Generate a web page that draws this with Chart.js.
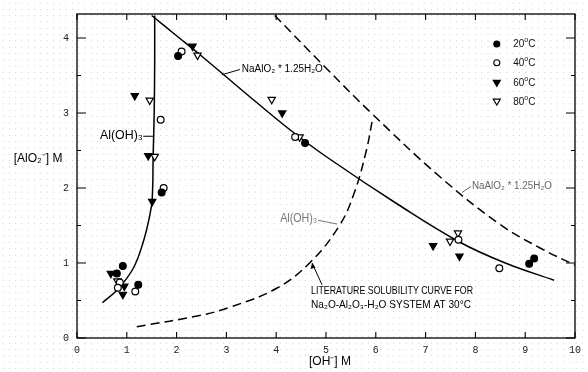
<!DOCTYPE html>
<html>
<head>
<meta charset="utf-8">
<script src="https://cdn.jsdelivr.net/npm/chart.js@4.4.0/dist/chart.umd.min.js"></script>
<style>
  html, body {
    margin: 0;
    padding: 0;
    background-color: #fff;
    background-image: radial-gradient(circle, #c4c4c4 0.7px, transparent 0.9px);
    background-size: 6.3px 6.3px;
  }
  canvas { display: block; }
</style>
</head>
<body>
<canvas id="solChart" width="588" height="372"></canvas>
<script>
// points : [OH-] (M), [AlO2-] (M)
const pts20 = [[2.03, 3.76], [1.70, 1.94], [0.92, 0.96], [0.80, 0.86], [1.23, 0.71], [4.58, 2.60], [9.08, 0.99], [9.18, 1.06]];
const pts40 = [[2.10, 3.82], [1.68, 2.91], [1.74, 2.00], [0.86, 0.74], [0.82, 0.67], [1.17, 0.62], [4.38, 2.68], [7.66, 1.31], [8.48, 0.93]];
const pts60 = [[2.32, 3.89], [1.16, 3.23], [1.43, 2.43], [1.51, 1.82], [0.68, 0.86], [0.95, 0.69], [0.92, 0.58], [4.12, 3.00], [7.15, 1.23], [7.68, 1.09]];
const pts80 = [[2.42, 3.77], [1.46, 3.17], [1.56, 2.42], [0.81, 0.76], [3.91, 3.18], [4.47, 2.68], [7.49, 1.29], [7.65, 1.40]];

// courbes
const alohX = [0.51, 0.82, 1.13, 1.33, 1.46, 1.51, 1.53, 1.55, 1.56, 1.56];
const alohY = [0.47, 0.65, 0.93, 1.28, 1.63, 1.85, 2.45, 3.0, 3.7, 4.3];
const naX = [1.5, 2.0, 2.5, 3.0, 3.5, 4.27, 5.0, 6.47, 7.68, 8.6, 9.58];
const naY = [4.3, 4.03, 3.76, 3.48, 3.2, 2.78, 2.42, 1.77, 1.28, 1.0, 0.77];
const naLitX = [3.97, 5.0, 5.94, 7.27, 8.48, 9.3, 10.0];
const naLitY = [4.3, 3.6, 2.98, 2.16, 1.52, 1.2, 0.97];
const alohLitX = [1.2, 2.46, 3.07, 4.0, 4.67, 5.27, 5.57, 5.81, 5.94];
const alohLitY = [0.15, 0.30, 0.41, 0.66, 1.0, 1.5, 1.94, 2.5, 2.94];

const xTicks = [0, 1, 2, 3, 4, 5, 6, 7, 8, 9, 10];
const yTicks = [0, 1, 2, 3, 4];
const yMinorTicks = [0.5, 1.5, 2.5, 3.5];
const legendLabels = ["20", "40", "60", "80"];

const toXY = (xs, ys) => xs.map((x, i) => ({ x: x, y: ys[i] }));
const toPts = (arr) => arr.map((p) => ({ x: p[0], y: p[1] }));

const sans = '"Liberation Sans", Arial, sans-serif';
const narrow = '"Liberation Sans Narrow", "Liberation Sans", sans-serif';

function pointSet(data, style, filled) {
  return {
    data: toPts(data),
    pointStyle: style,
    rotation: style === "triangle" ? 180 : 0,
    pointRadius: style === "triangle" ? 4.2 : 3.4,
    backgroundColor: filled ? "#000" : "#fff",
    borderColor: "#000",
    borderWidth: 1.2,
    showLine: false,
  };
}

function curveSet(data, dashed) {
  return {
    data: data,
    showLine: true,
    pointRadius: 0,
    borderColor: "#000",
    borderWidth: 1.5,
    borderDash: dashed ? [9, 5] : [],
    tension: 0.4,
    fill: false,
  };
}

// petit texte "20°C" avec le o en exposant
function degText(ctx, num, x, y, size) {
  ctx.textAlign = "left";
  ctx.textBaseline = "middle";
  ctx.font = size + "px " + narrow;
  ctx.fillText(num, x, y);
  const w = ctx.measureText(num).width;
  ctx.font = Math.round(size * 0.7) + "px " + narrow;
  ctx.fillText("o", x + w, y - size * 0.4);
  const w2 = ctx.measureText("o").width;
  ctx.font = size + "px " + narrow;
  ctx.fillText("C", x + w + w2, y);
}

// cadre et graduations vers l'intérieur
const framePlugin = {
  id: "frame",
  afterDatasetsDraw(chart) {
    const { ctx, chartArea: a, scales } = chart;
    ctx.save();
    ctx.strokeStyle = "#000";
    ctx.lineWidth = 1.3;
    ctx.strokeRect(a.left, a.top, a.right - a.left, a.bottom - a.top);
    ctx.lineWidth = 1.1;
    ctx.beginPath();
    xTicks.forEach((v) => {
      const px = scales.x.getPixelForValue(v);
      ctx.moveTo(px, a.bottom);
      ctx.lineTo(px, a.bottom - 6);
      ctx.moveTo(px, a.top);
      ctx.lineTo(px, a.top + 6);
    });
    yTicks.forEach((v) => {
      const py = scales.y.getPixelForValue(v);
      ctx.moveTo(a.left, py);
      ctx.lineTo(a.left + 9, py);
      ctx.moveTo(a.right, py);
      ctx.lineTo(a.right - 9, py);
    });
    yMinorTicks.forEach((v) => {
      const py = scales.y.getPixelForValue(v);
      ctx.moveTo(a.left, py);
      ctx.lineTo(a.left + 4, py);
      ctx.moveTo(a.right, py);
      ctx.lineTo(a.right - 4, py);
    });
    ctx.stroke();
    ctx.restore();
  },
};

// textes, flèches et légende
const notesPlugin = {
  id: "notes",
  afterDraw(chart) {
    const { ctx, scales } = chart;
    const P = (x, y) => [scales.x.getPixelForValue(x), scales.y.getPixelForValue(y)];
    const line = (x1, y1, x2, y2, color) => {
      const a = P(x1, y1), b = P(x2, y2);
      ctx.strokeStyle = color;
      ctx.lineWidth = 1;
      ctx.beginPath();
      ctx.moveTo(a[0], a[1]);
      ctx.lineTo(b[0], b[1]);
      ctx.stroke();
    };
    const text = (s, x, y, font, color, maxW, align) => {
      const p = P(x, y);
      ctx.font = font;
      ctx.fillStyle = color;
      ctx.textAlign = align || "left";
      ctx.textBaseline = "middle";
      ctx.fillText(s, p[0], p[1], maxW);
    };
    ctx.save();

    // titres des axes
    text("[AlO₂⁻] M", -1.27, 2.39, "12px " + sans, "#000", 50);
    text("[OH⁻] M", 5.08, -0.31, "12px " + sans, "#000", 44, "center");

    // Al(OH)3 (trait plein)
    text("Al(OH)₃", 0.46, 2.70, "13px " + sans, "#000", 43);
    line(1.33, 2.69, 1.55, 2.69, "#000");

    // NaAlO2 (trait plein)
    text("NaAlO₂ * 1.25H₂O", 3.31, 3.59, "10px " + sans, "#000", 81);
    line(2.91, 3.51, 3.27, 3.58, "#000");

    // NaAlO2 (pointillés)
    text("NaAlO₂ * 1.25H₂O", 7.93, 2.02, "10px " + sans, "#666", 80);
    line(7.73, 1.94, 7.91, 2.02, "#666");

    // Al(OH)3 (pointillés)
    text("Al(OH)₃", 4.08, 1.59, "12px " + sans, "#777", 37);
    line(4.84, 1.57, 5.22, 1.52, "#777");

    // courbe de la littérature
    text("LITERATURE SOLUBILITY CURVE FOR", 4.70, 0.63, "10.5px " + narrow, "#000", 162);
    text("Na₂O-Al₂O₃-H₂O SYSTEM AT 30°C", 4.70, 0.44, "10.5px " + narrow, "#000", 160);
    line(4.92, 0.71, 4.72, 1.0, "#000");
    const tip = P(4.72, 1.0);
    ctx.fillStyle = "#000";
    ctx.beginPath();
    ctx.moveTo(tip[0], tip[1]);
    ctx.lineTo(tip[0] - 1.5, tip[1] + 6);
    ctx.lineTo(tip[0] + 3.5, tip[1] + 4.5);
    ctx.closePath();
    ctx.fill();

    // légende
    const rowsY = [3.92, 3.67, 3.40, 3.15];
    rowsY.forEach((ry, i) => {
      const p = P(8.43, ry);
      ctx.lineWidth = 1.1;
      ctx.strokeStyle = "#000";
      ctx.fillStyle = i % 2 === 0 ? "#000" : "#fff";
      ctx.beginPath();
      if (i < 2) {
        ctx.arc(p[0], p[1], 3, 0, Math.PI * 2);
      } else {
        ctx.moveTo(p[0] - 3.6, p[1] - 2.6);
        ctx.lineTo(p[0] + 3.6, p[1] - 2.6);
        ctx.lineTo(p[0], p[1] + 3.4);
        ctx.closePath();
      }
      ctx.fill();
      ctx.stroke();
      ctx.fillStyle = "#111";
      const t = P(8.76, ry);
      degText(ctx, legendLabels[i], t[0], t[1], 10);
    });

    ctx.restore();
  },
};

const ctx = document.getElementById("solChart").getContext("2d");
const solChart = new Chart(ctx, {
  type: "scatter",
  data: {
    datasets: [
      pointSet(pts20, "circle", true),
      pointSet(pts40, "circle", false),
      pointSet(pts60, "triangle", true),
      pointSet(pts80, "triangle", false),
      curveSet(toXY(alohX, alohY), false),
      curveSet(toXY(naX, naY), false),
      curveSet(toXY(naLitX, naLitY), true),
      curveSet(toXY(alohLitX, alohLitY), true),
    ],
  },
  options: {
    responsive: false,
    animation: false,
    events: [],
    layout: { padding: { top: 8, right: 13, left: 0, bottom: 0 } },
    plugins: {
      legend: { display: false },
      tooltip: { enabled: false },
    },
    scales: {
      x: {
        type: "linear",
        min: 0,
        max: 10,
        afterBuildTicks: (s) => { s.ticks = xTicks.map((v) => ({ value: v })); },
        afterFit: (s) => { s.height = 34; },
        grid: { display: false, drawTicks: false },
        border: { display: false },
        ticks: {
          padding: 6,
          color: "#222",
          font: { family: '"Liberation Mono", monospace', size: 10 },
        },
      },
      y: {
        type: "linear",
        min: 0,
        max: 4.32,
        afterBuildTicks: (s) => { s.ticks = yTicks.map((v) => ({ value: v })); },
        afterFit: (s) => { s.width = 77; },
        grid: { display: false, drawTicks: false },
        border: { display: false },
        ticks: {
          padding: 8,
          color: "#222",
          font: { family: '"Liberation Mono", monospace', size: 10 },
        },
      },
    },
  },
  plugins: [framePlugin, notesPlugin],
});
</script>
</body>
</html>
